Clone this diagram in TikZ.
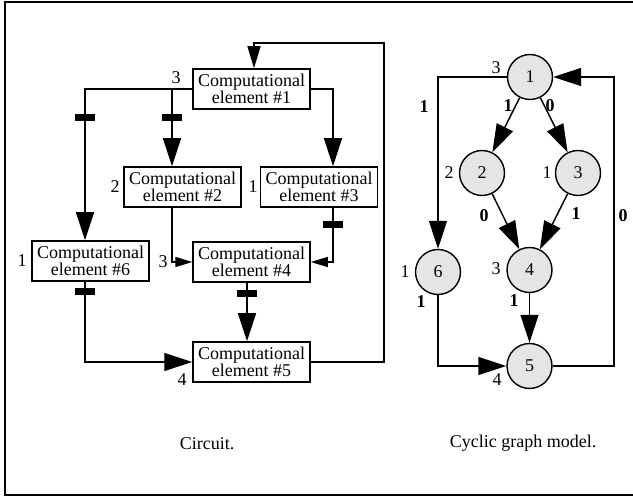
\documentclass[tikz,border=0pt]{standalone}
\usepackage{fontspec}
\setmainfont{Liberation Serif}
\usepackage{tikz}
\usetikzlibrary{arrows.meta, positioning}

\begin{document}
\begin{tikzpicture}[
  x=1pt, y=-1pt,
  font=\fontsize{18}{16}\selectfont,
  line width=1.4pt,
  elem/.style={draw, align=center, minimum width=117pt, minimum height=40pt,
               inner sep=0pt, line width=1.5pt},
  vtx/.style={draw, circle, minimum size=45pt, inner sep=0pt, fill=gray!20,
              line width=1.4pt},
  delay/.style={fill=black, minimum width=20pt, minimum height=7pt, inner sep=0pt},
  lbl/.style={inner sep=0pt},
  wt/.style={inner sep=0pt, font=\fontsize{18}{16}\selectfont\bfseries},
  arr/.style={-{Triangle[length=28pt, width=18pt]}},
  marr/.style={-{Triangle[length=22pt, width=13pt]}},
  sarr/.style={-{Triangle[length=17pt, width=10pt]}}
]
\useasboundingbox (0,0) rectangle (633,500);
% frame
\draw[line width=1.8pt] (633,2) -- (5,2) -- (5,495) -- (633,495);

% circuit
\node[elem] (b1) at (251.5,89)  {Computational\\ element \#1};
\node[elem] (b2) at (182.5,187) {Computational\\ element \#2};
\node[elem] (b3) at (319,187)   {Computational\\ element \#3};
\node[elem] (b6) at (90.5,261)  {Computational\\ element \#6};
\node[elem] (b4) at (251.5,262) {Computational\\ element \#4};
\node[elem] (b5) at (251.5,362) {Computational\\ element \#5};
\coordinate (fb) at (384,43);

\draw[arr] (b1.west) -| ([xshift=-5.5pt]b6.north);
\draw[arr] (b1.west) -| ([xshift=-10.5pt]b2.north);
\draw[arr] (b1.east) -| ([xshift=14pt]b3.north);
\draw[sarr] ([xshift=-10.5pt]b2.south) |- (b4.west);
\draw[sarr] ([xshift=14pt]b3.south) |- (b4.east);
\draw[arr] ([xshift=-5.5pt]b6.south) |- (b5.west);
\draw[arr] ([xshift=-4.5pt]b4.south) -- ([xshift=-4.5pt]b5.north);
\draw[marr] (b5.east) -| (fb) -| ([xshift=2.5pt]b1.north);

\node[delay] (d1) at (85,118) {};
\node[delay] (d2) at (172,118) {};
\node[delay] (d3) at (333,225) {};
\node[delay] (d4) at (85,292) {};
\node[delay] (d5) at (247,294) {};

\node[lbl] (c1) at (176,78)  {3};
\node[lbl] (c2) at (115,187) {2};
\node[lbl] (c3) at (253,187) {1};
\node[lbl] (c6) at (22,261)  {1};
\node[lbl] (c4) at (163,262) {3};
\node[lbl] (c5) at (182,380) {4};
\node[lbl] (cap1) at (207,444) {Circuit.};

% graph model
\node[vtx] (n1) at (530,77)    {1};
\node[vtx] (n2) at (482,173)   {2};
\node[vtx] (n3) at (578,173)   {3};
\node[vtx] (n6) at (438,272)   {6};
\node[vtx] (n4) at (529.5,270) {4};
\node[vtx] (n5) at (529.5,366) {5};
\coordinate (gb) at (614,77);

\draw[arr] (n1.west) -| (n6.north);
\draw[arr] (n1) -- (n2);
\draw[arr] (n1) -- (n3);
\draw[arr] (n2) -- (n4);
\draw[arr] (n3) -- (n4);
\draw[arr] (n4) -- (n5);
\draw[arr] (n6.south) |- (n5.west);
\draw[arr] (n5.east) -| (gb) -- (n1.east);

\node[wt] (w16) at (424,107) {1};
\node[wt] (w12) at (508,106) {1};
\node[wt] (w13) at (550,106) {0};
\node[wt] (w24) at (484,216) {0};
\node[wt] (w34) at (576,214) {1};
\node[wt] (w45) at (514,301) {1};
\node[wt] (w65) at (421,302) {1};
\node[wt] (w51) at (623,216) {0};

\node[lbl] (g1) at (496,68)  {3};
\node[lbl] (g2) at (449,173) {2};
\node[lbl] (g3) at (547,173) {1};
\node[lbl] (g6) at (405,272) {1};
\node[lbl] (g4) at (496,269) {3};
\node[lbl] (g5) at (497,380) {4};
\node[lbl] (cap2) at (523,443) {Cyclic graph model.};
\end{tikzpicture}
\end{document}
